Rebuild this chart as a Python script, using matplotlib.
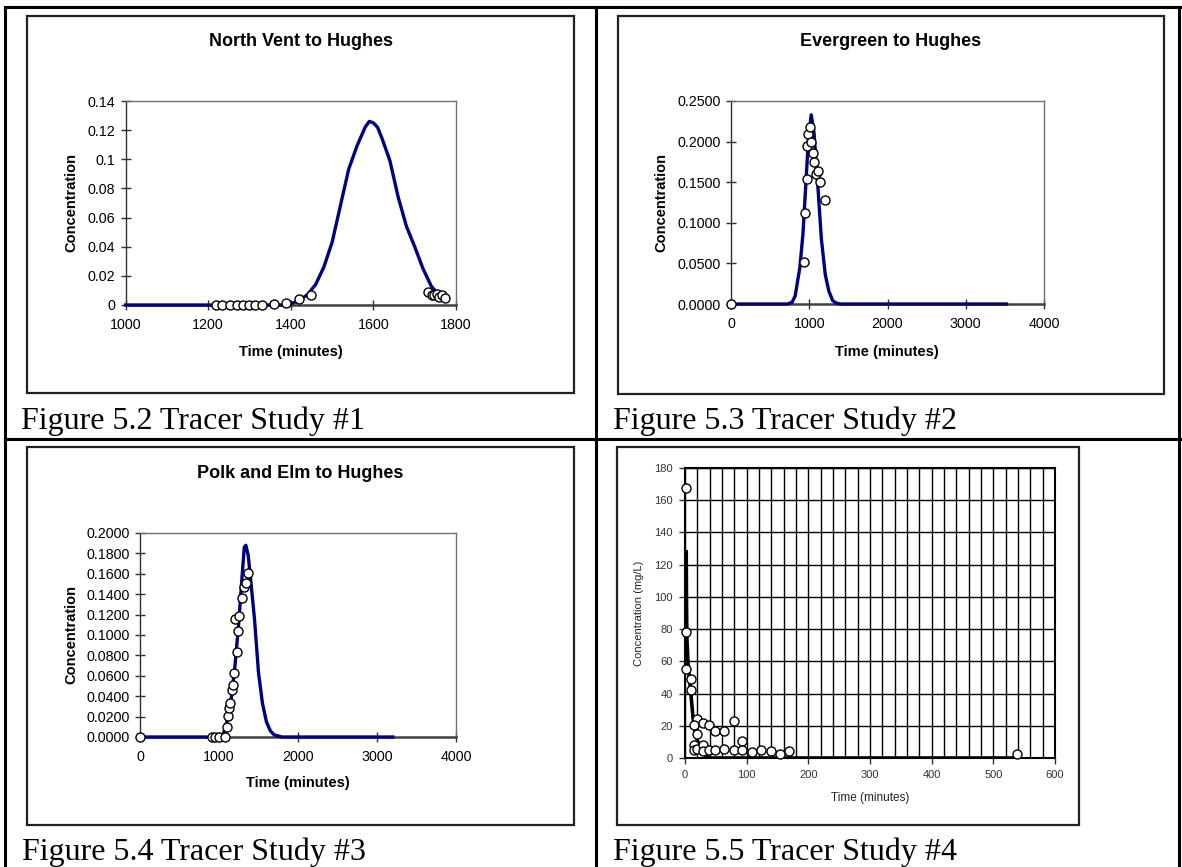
import matplotlib.pyplot as plt
from matplotlib.patches import Rectangle
from matplotlib.lines import Line2D
from matplotlib.ticker import MultipleLocator, FormatStrFormatter, StrMethodFormatter

# Tracer study #1 - North Vent to Hughes
t1_model = [1000, 1200, 1380, 1400, 1420, 1440, 1460, 1480, 1500, 1520, 1540, 1560,
            1580, 1590, 1600, 1610, 1620, 1640, 1660, 1680, 1700, 1720, 1740, 1755]
c1_model = [0, 0, 0, 0.0008, 0.003, 0.007, 0.014, 0.026, 0.043, 0.068, 0.093, 0.109,
            0.122, 0.126, 0.125, 0.122, 0.115, 0.099, 0.074, 0.054, 0.040, 0.025, 0.013, 0.008]
t1_obs = [1220, 1233, 1253, 1269, 1285, 1299, 1314, 1330, 1359, 1388, 1419, 1448,
          1731, 1743, 1747, 1753, 1760, 1767, 1774]
c1_obs = [0, 0, 0, 0, 0, 0, 0, 0, 0.0007, 0.0016, 0.004, 0.0066,
          0.0087, 0.007, 0.0069, 0.0075, 0.0057, 0.007, 0.005]

# Tracer study #2 - Evergreen to Hughes
t2_model = [0, 720, 780, 820, 880, 920, 955, 990, 1025, 1060, 1110, 1155, 1205,
            1250, 1300, 1350, 1400, 3520]
c2_model = [0, 0, 0.002, 0.010, 0.045, 0.087, 0.145, 0.205, 0.233, 0.212, 0.145, 0.080,
            0.036, 0.016, 0.004, 0.001, 0, 0]
t2_obs = [0, 937, 950, 967, 975, 988, 1010, 1022, 1052, 1065, 1086, 1108, 1137, 1201]
c2_obs = [0, 0.0517, 0.112, 0.154, 0.1946, 0.209, 0.2176, 0.199, 0.186, 0.175,
          0.160, 0.164, 0.1506, 0.1277]

# Tracer study #3 - Polk and Elm to Hughes
t3_model = [0, 1030, 1060, 1100, 1150, 1200, 1250, 1290, 1320, 1340, 1370, 1400,
            1450, 1500, 1550, 1600, 1650, 1700, 1800, 3200]
c3_model = [0, 0, 0.004, 0.015, 0.035, 0.068, 0.112, 0.155, 0.186, 0.188, 0.178, 0.155,
            0.115, 0.063, 0.033, 0.015, 0.006, 0.002, 0, 0]
t3_obs = [0, 907, 949, 1004, 1076, 1097, 1118, 1131, 1139, 1160, 1173, 1194, 1224,
          1241, 1203, 1257, 1287, 1316, 1338, 1367]
c3_obs = [0, 0, 0, 0, 0, 0.010, 0.021, 0.028, 0.0337, 0.046, 0.051, 0.063, 0.083,
          0.104, 0.116, 0.119, 0.136, 0.147, 0.151, 0.161]

# Tracer study #4
t4_model = [2, 2.5, 3, 5, 8, 10, 13, 16, 20, 25, 30, 35, 40, 540]
c4_model = [128, 95, 75, 58, 46, 38, 25, 17, 11, 6, 3, 1, 0, 0]
t4_obs = [1.2, 2.4, 2.4, 9.6, 9.6, 19.2, 13.8, 19.2, 28.9, 39, 13.8, 13.8, 19.2,
          28.9, 28.9, 39, 48, 48, 63, 63, 79, 79, 93, 93, 108, 123, 139, 154, 168, 539]
c4_obs = [167.4, 78.2, 55.2, 49.0, 42.4, 24.4, 20.5, 15.1, 21.7, 20.3, 8.3, 5.2, 5.6,
          7.9, 4.6, 5.2, 17.0, 5.2, 16.6, 5.8, 23.2, 4.8, 10.3, 5.2, 3.5, 4.8, 4.1,
          2.5, 4.1, 2.7]

W, H = 1182, 867
SANS = 'Liberation Sans'
SERIF = 'Liberation Serif'
NAVY = '#000080'

fig = plt.figure(figsize=(W / 100, H / 100), dpi=100)


def rect(l, t, r, b):
    return [l / W, 1 - b / H, (r - l) / W, (b - t) / H]


def ftext(x, y, s, **kw):
    fig.text(x / W, 1 - y / H, s, **kw)


# table grid of the document
for x0, y0, x1, y1 in [(5, 7, 1180, 7), (5, 439, 1180, 439),
                       (5, 7, 5, 867), (596, 7, 596, 867), (1179, 7, 1179, 867)]:
    fig.add_artist(Line2D([x0 / W, x1 / W], [1 - y0 / H, 1 - y1 / H], color='black', lw=2.2))

# chart frames
for l, t, r, b in [(27, 16, 574, 393), (618, 16, 1164, 394), (27, 447, 574, 825), (617, 447, 1079, 825)]:
    fig.add_artist(Rectangle((l / W, 1 - b / H), (r - l) / W, (b - t) / H, transform=fig.transFigure,
                             fill=False, edgecolor='#222222', lw=1.6))

# captions
for x, y, s in [(21, 429, 'Figure 5.2 Tracer Study #1'), (613, 429, 'Figure 5.3 Tracer Study #2'),
                (22, 860, 'Figure 5.4 Tracer Study #3'), (613, 860, 'Figure 5.5 Tracer Study #4')]:
    ftext(x, y, s, family=SERIF, fontsize=23, va='baseline', ha='left')


def excel_panel(box, t_mod, c_mod, t_obs, c_obs, xlim, xstep, ylim, ystep, fmt,
                title, title_xy, xlab_xy, ylab_xy):
    ax = fig.add_axes(rect(*box))
    ax.plot(t_mod, c_mod, color=NAVY, lw=2.4, zorder=3, clip_on=False)
    ax.plot(t_obs, c_obs, 'o', ms=6.5, mfc='white', mec='black', mew=1, zorder=4, clip_on=False)
    ax.set_xlim(*xlim)
    ax.set_ylim(*ylim)
    ax.xaxis.set_major_locator(MultipleLocator(xstep))
    ax.yaxis.set_major_locator(MultipleLocator(ystep))
    ax.yaxis.set_major_formatter(fmt)
    for side in ['top', 'right']:
        ax.spines[side].set_color('#707070')
        ax.spines[side].set_linewidth(1)
    ax.spines['left'].set_color('#303030')
    ax.spines['left'].set_linewidth(1)
    ax.spines['bottom'].set_color('#404040')
    ax.spines['bottom'].set_linewidth(1.8)
    ax.tick_params(direction='inout', length=7, width=1, color='#303030', labelsize=10.3)
    ax.tick_params(axis='x', pad=6)
    ax.tick_params(axis='y', pad=4)
    for lab in ax.get_xticklabels() + ax.get_yticklabels():
        lab.set_family(SANS)
    ftext(*title_xy, title, family=SANS, fontsize=13, fontweight='bold', ha='center', va='center')
    ftext(*xlab_xy, 'Time (minutes)', family=SANS, fontsize=10.5, fontweight='bold', ha='center', va='center')
    ftext(*ylab_xy, 'Concentration', family=SANS, fontsize=10.5, fontweight='bold', ha='center', va='center',
          rotation=90)
    return ax


excel_panel((125.6, 101, 456, 305), t1_model, c1_model, t1_obs, c1_obs,
            (1000, 1800), 200, (0, 0.14), 0.02, StrMethodFormatter('{x:g}'),
            'North Vent to Hughes', (301, 42), (291, 352), (71, 203))
excel_panel((731, 101, 1044, 304), t2_model, c2_model, t2_obs, c2_obs,
            (0, 4000), 1000, (0, 0.25), 0.05, FormatStrFormatter('%.4f'),
            'Evergreen to Hughes', (891, 42), (887, 352), (661, 203))
excel_panel((140, 533, 456, 737), t3_model, c3_model, t3_obs, c3_obs,
            (0, 4000), 1000, (0, 0.2), 0.02, FormatStrFormatter('%.4f'),
            'Polk and Elm to Hughes', (300, 473), (298, 783), (71, 635))

# panel 4 - gridded chart
ax4 = fig.add_axes(rect(685, 468, 1055, 758))
ax4.plot(t4_model, c4_model, color='black', lw=2.6, zorder=3)
ax4.plot(t4_obs, c4_obs, 'o', ms=6.5, mfc='white', mec='black', mew=1, zorder=4, clip_on=False)
ax4.set_xlim(0, 600)
ax4.set_ylim(0, 180)
ax4.xaxis.set_major_locator(MultipleLocator(100))
ax4.xaxis.set_minor_locator(MultipleLocator(20))
ax4.yaxis.set_major_locator(MultipleLocator(20))
ax4.grid(True, which='both', axis='x', color='black', lw=1)
ax4.grid(True, which='major', axis='y', color='black', lw=1)
for sp in ax4.spines.values():
    sp.set_color('black')
    sp.set_linewidth(1.5)
ax4.tick_params(which='both', direction='out', length=4, width=1, labelsize=8, colors='#333333', pad=5)
ax4.tick_params(which='minor', length=0)
for lab in ax4.get_xticklabels() + ax4.get_yticklabels():
    lab.set_family(SANS)
ftext(870, 798, 'Time (minutes)', family=SANS, fontsize=8.5, ha='center', va='center', color='#222222')
ftext(639, 613, 'Concentration (mg/L)', family=SANS, fontsize=8, ha='center', va='center',
      rotation=90, color='#222222')

fig.savefig('out.png', dpi=100)
